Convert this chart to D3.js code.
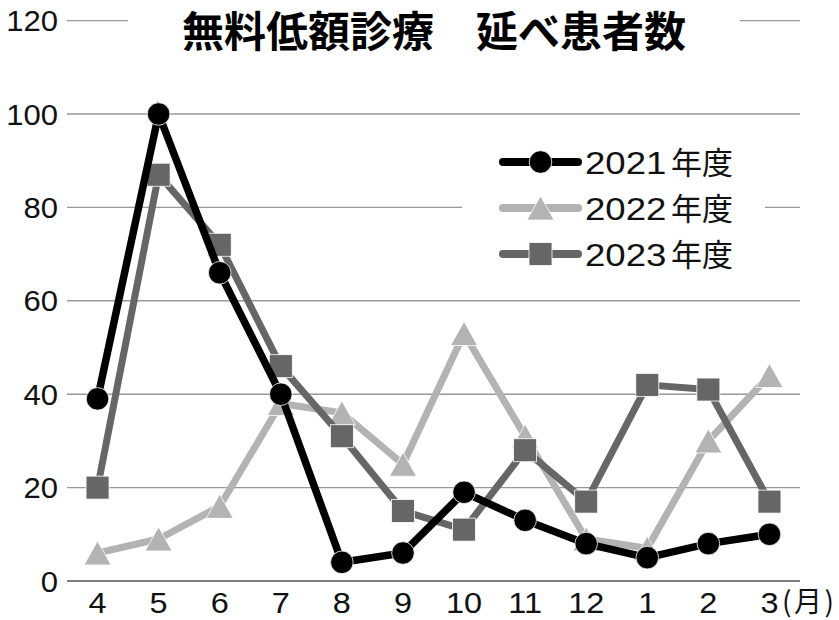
<!DOCTYPE html>
<html><head><meta charset="utf-8">
<script src="https://cdn.jsdelivr.net/npm/d3@7"></script>
<style>html,body{margin:0;padding:0;background:#fff;}</style>
</head><body>
<script>
const months = ["4","5","6","7","8","9","10","11","12","1","2","3"];
const series2021 = [39,100,66,40,4,6,19,13,8,5,8,10];
const series2022 = [6,9,16,38,36,25,53,31,9,7,30,44];
const series2023 = [20,87,72,46,31,15,11,28,17,42,41,17];
const yTicks = [0,20,40,60,80,100,120];
const seriesNames = ["2021年度","2022年度","2023年度"];
const title = "無料低額診療\u3000延べ患者数";
const unitLabel = "(月)";

const W = 839, H = 620;
const svg = d3.select("body").append("svg").attr("width", W).attr("height", H);
const x = d3.scalePoint().domain(months).range([67, 800]).padding(0.5);
const y = d3.scaleLinear().domain([0, 120]).range([581, 20.6]);

const latin = "'Liberation Sans', Arial, Helvetica, sans-serif";
const cjk = "'Noto Sans CJK JP', sans-serif";

// gridlines
svg.append("g").selectAll("line").data(yTicks.filter(d => d > 0)).join("line")
  .attr("x1", 67).attr("x2", 800).attr("y1", d => y(d)).attr("y2", d => y(d))
  .attr("stroke", "#999").attr("stroke-width", 1.4);
svg.append("line").attr("x1", 67).attr("x2", 800).attr("y1", y(0)).attr("y2", y(0))
  .attr("stroke", "#555").attr("stroke-width", 1.6);

// y labels
svg.append("g").selectAll("text").data(yTicks).join("text")
  .attr("transform", d => `translate(58,${y(d) + 10.5}) scale(1.07,1)`).attr("text-anchor", "end")
  .attr("font-family", latin).attr("font-size", 29).attr("fill", "#111").text(d => d);

// x labels
svg.append("g").selectAll("text").data(months).join("text")
  .attr("transform", d => `translate(${x(d)},613) scale(1.12,1)`).attr("text-anchor", "middle")
  .attr("font-family", latin).attr("font-size", 29).attr("fill", "#111").text(d => d);
svg.append("text").attr("x", 782).attr("y", 612).attr("font-family", cjk)
  .attr("font-size", 28).attr("letter-spacing", 2.5).attr("fill", "#111").text(unitLabel);

// title background + title
svg.append("rect").attr("x", 128).attr("y", 5).attr("width", 612).attr("height", 60).attr("fill", "#fff");
svg.append("text").attr("x", 434).attr("y", 47).attr("text-anchor", "middle")
  .attr("font-family", cjk).attr("font-weight", 700).attr("font-size", 42).attr("fill", "#000").text(title);

// marker paths
function tri(cx, cy) { const s = 27, h = 24; return `M${cx},${cy - h/2}L${cx + s/2},${cy + h/2}L${cx - s/2},${cy + h/2}Z`; }

const cfg = [
  {name: seriesNames[1], data: series2022, color: "#b3b3b3", marker: "tri", width: 7},
  {name: seriesNames[2], data: series2023, color: "#666666", marker: "sq", width: 7},
  {name: seriesNames[0], data: series2021, color: "#000000", marker: "circ", width: 7.5}
];

function drawMarker(g, type, cx, cy, color) {
  if (type === "circ") g.append("circle").attr("cx", cx).attr("cy", cy).attr("r", 11.3).attr("fill", color).attr("stroke", "#fff").attr("stroke-width", 0.8);
  else if (type === "sq") g.append("rect").attr("x", cx - 11.5).attr("y", cy - 11.5).attr("width", 23).attr("height", 23).attr("fill", color).attr("stroke", "#fff").attr("stroke-width", 0.8);
  else g.append("path").attr("d", tri(cx, cy)).attr("fill", color).attr("stroke", "#fff").attr("stroke-width", 0.8);
}

const line = d3.line().x((d, i) => x(months[i])).y(d => y(d));
cfg.forEach(s => {
  const g = svg.append("g");
  g.append("path").attr("d", line(s.data)).attr("fill", "none").attr("stroke", s.color)
    .attr("stroke-width", s.width).attr("stroke-linejoin", "miter");
  s.data.forEach((v, i) => drawMarker(g, s.marker, x(months[i]), y(v), s.color));
});

// legend
const leg = svg.append("g");
leg.append("rect").attr("x", 462).attr("y", 135).attr("width", 303).attr("height", 145).attr("fill", "#fff");
const legOrder = [cfg[2], cfg[0], cfg[1]];
const legY = [162, 208, 254];
legOrder.forEach((s, i) => {
  const ly = legY[i];
  leg.append("line").attr("x1", 503).attr("x2", 578).attr("y1", ly).attr("y2", ly)
    .attr("stroke", s.color).attr("stroke-width", 8).attr("stroke-linecap", "round");
  drawMarker(leg, s.marker, 540.5, ly, s.color);
  leg.append("text").attr("transform", `translate(585,${ly + 11.5}) scale(1.18,1)`)
    .attr("font-family", latin).attr("font-size", 31).attr("fill", "#111").text(s.name.slice(0, 4));
  leg.append("text").attr("x", 671).attr("y", ly + 11.5)
    .attr("font-family", cjk).attr("font-size", 31).attr("fill", "#111").text(s.name.slice(4));
});
</script>
</body></html>
